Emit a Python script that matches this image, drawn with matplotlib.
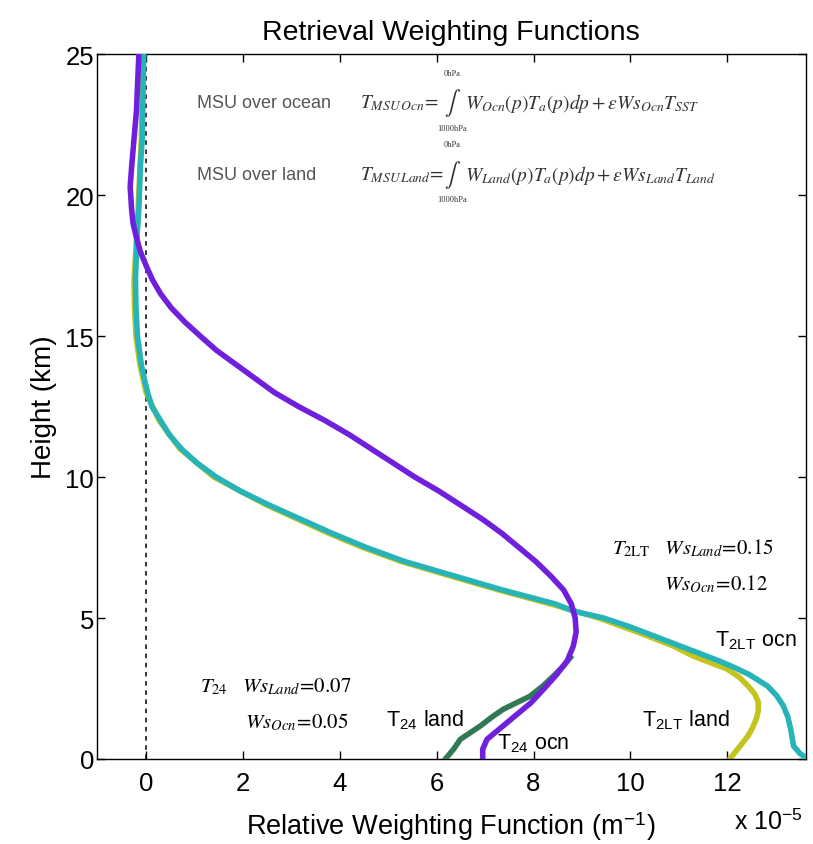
import numpy as np
import matplotlib
matplotlib.use("Agg")
import matplotlib.pyplot as plt

plt.rcParams['font.family'] = ['Liberation Sans', 'DejaVu Sans']
plt.rcParams['mathtext.fontset'] = 'stix'

# weighting function profiles (x in units of 1e-5 m^-1, height in km)
h_t24_ocn = [0, 0.35, 0.7, 1, 1.5, 2, 2.5, 3, 3.5, 4, 4.5, 5, 5.5, 6, 6.5, 7, 7.5, 8,
             8.5, 9, 9.5, 10, 10.5, 11, 11.5, 12, 12.5, 13, 13.5, 14, 14.5, 15, 15.5,
             16, 16.5, 17, 17.5, 18, 18.5, 19, 19.5, 20.3, 21, 22, 23, 25]
x_t24_ocn = [6.95, 6.95, 7.04, 7.25, 7.6, 7.95, 8.22, 8.48, 8.7, 8.82, 8.88, 8.86,
             8.78, 8.62, 8.35, 8.05, 7.7, 7.35, 6.95, 6.5, 6.05, 5.55, 5.1, 4.65, 4.2,
             3.7, 3.15, 2.65, 2.25, 1.85, 1.45, 1.12, 0.8, 0.52, 0.3, 0.13, 0.0,
             -0.12, -0.2, -0.27, -0.3, -0.33, -0.3, -0.25, -0.2, -0.15]

h_t24_land = [0, 0.35, 0.7, 1.17, 1.5, 1.77, 2.23, 2.6, 2.94, 3.3, 3.6]
x_t24_land = [6.18, 6.35, 6.49, 6.9, 7.15, 7.38, 7.93, 8.2, 8.41, 8.62, 8.76]

h_t2lt_ocn = [0, 0.2, 0.46, 1.06, 1.5, 1.88, 2.25, 2.59, 3, 3.26, 3.5, 3.83, 4, 4.5,
              4.72, 5, 5.25, 5.5, 6, 6.5, 7, 7.5, 8, 8.5, 9, 9.5, 10, 10.5, 11, 11.5,
              12, 12.5, 13, 13.5, 14, 14.5, 15, 16, 17, 18.5, 19.5, 21, 22, 25]
x_t2lt_ocn = [13.66, 13.5, 13.37, 13.31, 13.25, 13.16, 13.02, 12.83, 12.45, 12.13,
              11.8, 11.3, 11.04, 10.28, 9.94, 9.45, 8.82, 8.45, 7.35, 6.35, 5.35, 4.55,
              3.85, 3.2, 2.55, 1.95, 1.45, 1.05, 0.73, 0.48, 0.3, 0.12, 0.03, -0.04,
              -0.1, -0.14, -0.18, -0.21, -0.22, -0.19, -0.15, -0.12, -0.08, -0.05]

h_t2lt_land = [0, 0.36, 0.82, 1.1, 1.42, 1.7, 2.02, 2.3, 2.59, 2.9, 3.19, 3.65, 4,
               4.5, 5, 5.5, 6, 6.5, 7, 7.5, 8, 9, 10, 11, 12, 13, 14, 15, 16, 17, 19, 22,
               25]
x_t2lt_land = [12.05, 12.22, 12.43, 12.52, 12.6, 12.64, 12.64, 12.57, 12.43, 12.25,
               12.0, 11.3, 10.9, 10.15, 9.35, 8.35, 7.27, 6.27, 5.28, 4.48, 3.78, 2.5,
               1.4, 0.7, 0.27, 0.0, -0.13, -0.21, -0.24, -0.25, -0.18, -0.1, -0.06]

fig = plt.figure(figsize=(8.13, 8.45), dpi=100)
ax = fig.add_axes([0.119, 0.1006, 0.872, 0.834])

ax.axvline(0, color='black', linestyle=(0, (3, 3)), linewidth=1.1, zorder=1)

lw = 4.0
ax.plot(x_t2lt_land, h_t2lt_land, color='#c4c41c', linewidth=lw, zorder=2,
        solid_joinstyle='round')
ax.plot(x_t2lt_ocn, h_t2lt_ocn, color='#26b4b8', linewidth=lw, zorder=3,
        solid_joinstyle='round')
ax.plot(x_t24_land, h_t24_land, color='#2f7a55', linewidth=lw, zorder=4,
        solid_joinstyle='round')
ax.plot(x_t24_ocn, h_t24_ocn, color='#7020dc', linewidth=lw, zorder=5,
        solid_joinstyle='round')

ax.set_xlim(-1.02, 13.62)
ax.set_ylim(0, 25)
ax.set_xticks([0, 2, 4, 6, 8, 10, 12])
ax.set_yticks([0, 5, 10, 15, 20, 25])
ax.tick_params(direction='in', top=True, right=True, labelsize=18.5, length=6, width=1)
ax.tick_params(axis='x', pad=9)
ax.tick_params(axis='y', pad=2)
for s in ax.spines.values():
    s.set_linewidth(1.0)

ax.set_title('Retrieval Weighting Functions', fontsize=20.5, pad=11)
ax.set_ylabel('Height (km)', fontsize=20, labelpad=6)
ax.set_xlabel('Relative Weighting Function (m$^{\\mathregular{-1}}$)', fontsize=19.5,
              labelpad=10)
fig.text(0.903, 0.012, r'x 10$^{\mathregular{-5}}$', fontsize=18, ha='left', va='bottom')

# retrieval equations
gray = '#555555'
eq_col = '#333333'
ax.text(1.05, 23.3, 'MSU over ocean', fontsize=13, color=gray, va='center')
ax.text(1.05, 20.75, 'MSU over land', fontsize=13, color=gray, va='center')

rows = [
    (23.3, r'$T_{MSU\,Ocn}\!=$', r'$W_{Ocn}(p)T_a(p)dp+\epsilon Ws_{Ocn}T_{SST}$'),
    (20.75, r'$T_{MSU\,Land}\!=$', r'$W_{Land}(p)T_a(p)dp+\epsilon Ws_{Land}T_{Land}$'),
]
for yc, lhs, rhs in rows:
    ax.text(4.42, yc, lhs, fontsize=14, color=eq_col, va='center')
    ax.text(6.32, yc, r'$\int$', fontsize=17, color=eq_col, va='center', ha='center')
    ax.text(6.32, yc + 1.05, '0hPa', fontsize=6, color=eq_col, va='center',
            ha='center', family='Liberation Serif')
    ax.text(6.32, yc - 0.9, '1000hPa', fontsize=6, color=eq_col, va='center',
            ha='center', family='Liberation Serif')
    ax.text(6.58, yc, rhs, fontsize=14, color=eq_col, va='center')

# surface weights
ax.text(9.63, 7.5, r'$T_{\mathrm{2LT}}\quad Ws_{Land}\!=\!\mathrm{0.15}$', fontsize=15, va='center')
ax.text(10.7, 6.25, r'$Ws_{Ocn}\!=\!\mathrm{0.12}$', fontsize=15, va='center')
ax.text(1.12, 2.6, r'$T_{\mathrm{24}}\quad Ws_{Land}\!=\!\mathrm{0.07}$', fontsize=15, va='center')
ax.text(2.05, 1.35, r'$Ws_{Ocn}\!=\!\mathrm{0.05}$', fontsize=15, va='center')

# curve labels
ax.text(4.95, 1.2, r'T$_{\mathregular{24}}$ land', fontsize=15.5)
ax.text(7.25, 0.4, r'T$_{\mathregular{24}}$ ocn', fontsize=15.5)
ax.text(11.75, 4.05, r'T$_{\mathregular{2LT}}$ ocn', fontsize=15.5)
ax.text(10.25, 1.2, r'T$_{\mathregular{2LT}}$ land', fontsize=15.5)

fig.savefig('out.png', dpi=100)
